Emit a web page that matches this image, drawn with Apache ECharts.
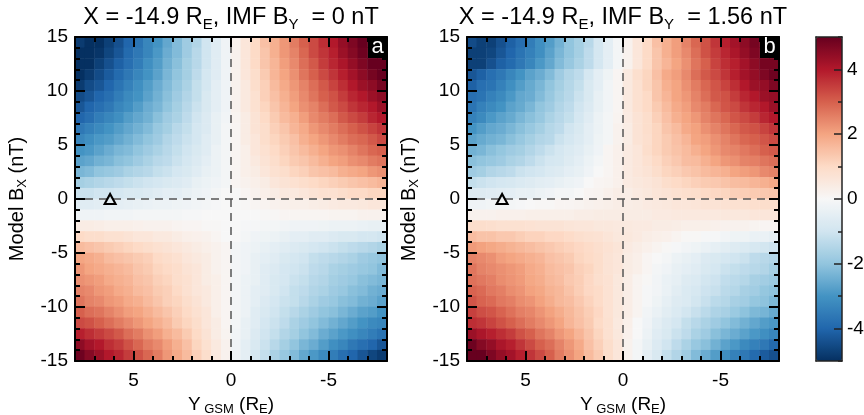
<!DOCTYPE html>
<html><head><meta charset="utf-8">
<script src="https://cdn.jsdelivr.net/npm/echarts@6/dist/echarts.min.js"></script>
<style>html,body{margin:0;padding:0;background:#fff}#c{width:864px;height:415px}</style>
</head><body><div id="c"></div>
<script>
// ---------- data ----------
const yGsmCenters = [7.75,7.25,6.75,6.25,5.75,5.25,4.75,4.25,3.75,3.25,2.75,2.25,1.75,1.25,0.75,0.25,-0.25,-0.75,-1.25,-1.75,-2.25,-2.75,-3.25,-3.75,-4.25,-4.75,-5.25,-5.75,-6.25,-6.75,-7.25,-7.75];
const bxCenters = [14.5,13.5,12.5,11.5,10.5,9.5,8.5,7.5,6.5,5.5,4.5,3.5,2.5,1.5,0.5,-0.5,-1.5,-2.5,-3.5,-4.5,-5.5,-6.5,-7.5,-8.5,-9.5,-10.5,-11.5,-12.5,-13.5,-14.5];
// rows: Bx from 14.5 (top) to -14.5 (bottom); columns: Y_GSM 7.75 (left) to -7.75 (right)
const panelA = [
[-4.8,-5.0,-5.0,-4.7,-4.4,-4.0,-3.7,-3.3,-3.0,-2.6,-2.2,-1.8,-1.5,-1.0,-0.6,-0.2,0.2,0.6,1.0,1.5,1.8,2.2,2.6,3.0,3.3,3.7,4.0,4.4,4.7,5.0,5.0,4.9],
[-5.0,-5.0,-4.9,-4.6,-4.3,-3.9,-3.6,-3.3,-2.9,-2.5,-2.2,-1.8,-1.4,-1.0,-0.6,-0.2,0.2,0.6,1.0,1.4,1.8,2.2,2.5,2.9,3.3,3.6,3.9,4.3,4.6,4.9,5.0,5.0],
[-5.0,-5.0,-4.7,-4.4,-4.1,-3.8,-3.5,-3.1,-2.8,-2.4,-2.1,-1.7,-1.4,-1.0,-0.6,-0.2,0.2,0.6,1.0,1.4,1.7,2.1,2.4,2.8,3.1,3.5,3.8,4.1,4.4,4.7,5.0,5.0],
[-5.0,-4.8,-4.5,-4.2,-3.9,-3.6,-3.3,-3.0,-2.7,-2.3,-2.0,-1.7,-1.3,-0.9,-0.6,-0.2,0.2,0.6,0.9,1.3,1.7,2.0,2.3,2.7,3.0,3.3,3.6,3.9,4.2,4.5,4.8,5.0],
[-4.8,-4.5,-4.3,-4.0,-3.7,-3.4,-3.1,-2.8,-2.5,-2.2,-1.9,-1.6,-1.2,-0.9,-0.5,-0.2,0.2,0.5,0.9,1.2,1.6,1.9,2.2,2.5,2.8,3.1,3.4,3.7,4.0,4.3,4.5,4.8],
[-4.5,-4.3,-4.0,-3.8,-3.5,-3.2,-3.0,-2.7,-2.4,-2.1,-1.8,-1.5,-1.2,-0.8,-0.5,-0.2,0.2,0.5,0.8,1.2,1.5,1.8,2.1,2.4,2.7,3.0,3.2,3.5,3.8,4.0,4.3,4.5],
[-4.3,-4.0,-3.8,-3.6,-3.3,-3.1,-2.8,-2.5,-2.3,-2.0,-1.7,-1.4,-1.1,-0.8,-0.5,-0.2,0.2,0.5,0.8,1.1,1.4,1.7,2.0,2.3,2.5,2.8,3.1,3.3,3.6,3.8,4.0,4.3],
[-4.0,-3.8,-3.5,-3.3,-3.1,-2.8,-2.6,-2.4,-2.1,-1.8,-1.6,-1.3,-1.0,-0.7,-0.4,-0.15,0.15,0.4,0.7,1.0,1.3,1.6,1.8,2.1,2.4,2.6,2.8,3.1,3.3,3.5,3.8,4.0],
[-3.6,-3.4,-3.2,-3.0,-2.8,-2.6,-2.4,-2.2,-1.9,-1.7,-1.4,-1.2,-0.9,-0.7,-0.4,-0.1,0.1,0.4,0.7,0.9,1.2,1.4,1.7,1.9,2.2,2.4,2.6,2.8,3.0,3.2,3.4,3.6],
[-3.3,-3.1,-2.9,-2.8,-2.6,-2.4,-2.2,-2.0,-1.8,-1.5,-1.3,-1.1,-0.9,-0.6,-0.4,-0.1,0.1,0.4,0.6,0.9,1.1,1.3,1.5,1.8,2.0,2.2,2.4,2.6,2.8,2.9,3.1,3.3],
[-3.0,-2.9,-2.7,-2.5,-2.3,-2.2,-2.0,-1.8,-1.6,-1.4,-1.2,-1.0,-0.8,-0.6,-0.3,-0.1,0.1,0.3,0.6,0.8,1.0,1.2,1.4,1.6,1.8,2.0,2.2,2.3,2.5,2.7,2.9,3.0],
[-2.7,-2.6,-2.4,-2.3,-2.1,-2.0,-1.8,-1.6,-1.4,-1.3,-1.1,-0.9,-0.7,-0.5,-0.3,-0.1,0.1,0.3,0.5,0.7,0.9,1.1,1.3,1.4,1.6,1.8,2.0,2.1,2.3,2.4,2.6,2.7],
[-2.3,-2.2,-2.0,-1.9,-1.8,-1.6,-1.5,-1.4,-1.2,-1.1,-0.9,-0.8,-0.6,-0.4,-0.3,-0.1,0.1,0.3,0.4,0.6,0.8,0.9,1.1,1.2,1.4,1.5,1.6,1.8,1.9,2.0,2.2,2.3],
[-1.7,-1.6,-1.5,-1.4,-1.3,-1.2,-1.1,-1.0,-0.9,-0.8,-0.7,-0.6,-0.4,-0.3,-0.2,-0.1,0.1,0.2,0.3,0.4,0.6,0.7,0.8,0.9,1.0,1.1,1.2,1.3,1.4,1.5,1.6,1.7],
[-1.1,-1.1,-1.0,-1.0,-0.9,-0.8,-0.8,-0.7,-0.6,-0.5,-0.5,-0.4,-0.3,-0.2,-0.1,0.0,0.0,0.1,0.2,0.3,0.4,0.5,0.5,0.6,0.7,0.8,0.8,0.9,1.0,1.0,1.1,1.1],
[-0.6,-0.6,-0.55,-0.5,-0.5,-0.45,-0.4,-0.35,-0.3,-0.3,-0.25,-0.2,-0.15,-0.1,-0.05,0.0,0.0,0.05,0.1,0.15,0.2,0.25,0.3,0.3,0.35,0.4,0.45,0.5,0.5,0.55,0.6,0.6],
[-0.2,-0.2,-0.2,-0.15,-0.15,-0.15,-0.1,-0.1,-0.1,-0.1,-0.1,-0.05,-0.05,0.0,0.0,0.0,0.0,0.0,0.0,0.05,0.05,0.1,0.1,0.1,0.1,0.1,0.15,0.15,0.15,0.2,0.2,0.2],
[0.4,0.4,0.35,0.3,0.3,0.3,0.25,0.2,0.2,0.2,0.15,0.1,0.1,0.05,0.05,0.0,0.0,-0.05,-0.05,-0.1,-0.1,-0.15,-0.2,-0.2,-0.2,-0.25,-0.3,-0.3,-0.3,-0.35,-0.4,-0.4],
[1.0,0.9,0.9,0.8,0.8,0.7,0.6,0.6,0.5,0.5,0.4,0.3,0.25,0.2,0.1,0.0,0.0,-0.1,-0.2,-0.25,-0.3,-0.4,-0.5,-0.5,-0.6,-0.6,-0.7,-0.8,-0.8,-0.9,-0.9,-1.0],
[1.6,1.5,1.4,1.3,1.2,1.1,1.0,0.9,0.8,0.7,0.6,0.5,0.4,0.3,0.2,0.1,-0.1,-0.2,-0.3,-0.4,-0.5,-0.6,-0.7,-0.8,-0.9,-1.0,-1.1,-1.2,-1.3,-1.4,-1.5,-1.6],
[2.0,1.9,1.8,1.6,1.5,1.4,1.3,1.2,1.0,0.9,0.8,0.6,0.5,0.4,0.2,0.1,-0.1,-0.2,-0.4,-0.5,-0.6,-0.8,-0.9,-1.0,-1.2,-1.3,-1.4,-1.5,-1.6,-1.8,-1.9,-2.0],
[2.2,2.0,1.9,1.8,1.7,1.6,1.4,1.3,1.1,1.0,0.9,0.7,0.6,0.4,0.2,0.1,-0.1,-0.2,-0.4,-0.6,-0.7,-0.9,-1.0,-1.1,-1.3,-1.4,-1.6,-1.7,-1.8,-1.9,-2.0,-2.2],
[2.3,2.2,2.1,1.9,1.8,1.7,1.5,1.4,1.2,1.1,0.9,0.8,0.6,0.4,0.3,0.1,-0.1,-0.3,-0.4,-0.6,-0.8,-0.9,-1.1,-1.2,-1.4,-1.5,-1.7,-1.8,-1.9,-2.1,-2.2,-2.3],
[2.5,2.4,2.2,2.1,1.9,1.8,1.6,1.5,1.3,1.2,1.0,0.8,0.6,0.5,0.3,0.1,-0.1,-0.3,-0.5,-0.6,-0.8,-1.0,-1.2,-1.3,-1.5,-1.6,-1.8,-1.9,-2.1,-2.2,-2.4,-2.5],
[2.7,2.5,2.4,2.2,2.1,1.9,1.8,1.6,1.4,1.2,1.1,0.9,0.7,0.5,0.3,0.1,-0.1,-0.3,-0.5,-0.7,-0.9,-1.1,-1.2,-1.4,-1.6,-1.8,-1.9,-2.1,-2.2,-2.4,-2.5,-2.7],
[3.0,2.8,2.7,2.5,2.3,2.1,2.0,1.8,1.6,1.4,1.2,1.0,0.8,0.6,0.3,0.1,-0.1,-0.3,-0.6,-0.8,-1.0,-1.2,-1.4,-1.6,-1.8,-2.0,-2.1,-2.3,-2.5,-2.7,-2.8,-3.0],
[3.3,3.2,3.0,2.8,2.6,2.4,2.2,2.0,1.8,1.6,1.3,1.1,0.9,0.6,0.4,0.1,-0.1,-0.4,-0.6,-0.9,-1.1,-1.3,-1.6,-1.8,-2.0,-2.2,-2.4,-2.6,-2.8,-3.0,-3.2,-3.3],
[3.9,3.7,3.5,3.3,3.1,2.8,2.6,2.3,2.1,1.8,1.6,1.3,1.0,0.7,0.4,0.15,-0.15,-0.4,-0.7,-1.0,-1.2,-1.5,-1.7,-2.0,-2.2,-2.5,-2.7,-2.9,-3.1,-3.3,-3.5,-3.7],
[4.5,4.2,4.0,3.7,3.5,3.2,2.9,2.6,2.4,2.1,1.8,1.5,1.1,0.8,0.5,0.2,-0.2,-0.5,-0.8,-1.1,-1.4,-1.7,-2.0,-2.3,-2.5,-2.8,-3.1,-3.3,-3.6,-3.8,-4.0,-4.3],
[4.9,4.6,4.3,4.0,3.8,3.5,3.2,2.9,2.6,2.2,1.9,1.6,1.2,0.9,0.5,0.2,-0.2,-0.5,-0.9,-1.2,-1.6,-1.9,-2.2,-2.6,-2.9,-3.2,-3.5,-3.8,-4.0,-4.3,-4.6,-4.8]
];
const panelB = [
[-4.5,-4.7,-4.7,-4.4,-4.1,-3.8,-3.5,-3.1,-2.8,-2.4,-2.0,-1.7,-1.4,-0.9,-0.5,-0.1,0.2,0.6,1.0,1.5,1.8,2.1,2.5,2.9,3.2,3.6,3.9,4.2,4.5,4.8,4.8,4.7],
[-4.7,-4.7,-4.6,-4.3,-4.0,-3.7,-3.4,-3.1,-2.7,-2.3,-2.0,-1.7,-1.3,-0.9,-0.5,-0.1,0.2,0.6,1.0,1.4,1.8,2.1,2.4,2.8,3.2,3.5,3.8,4.1,4.4,4.7,4.8,4.8],
[-4.7,-4.7,-4.4,-4.1,-3.9,-3.6,-3.3,-2.9,-2.6,-2.2,-1.9,-1.6,-1.3,-0.9,-0.5,-0.1,0.2,0.6,1.0,1.4,1.7,2.0,2.3,2.7,3.0,3.4,3.7,3.9,4.2,4.5,4.8,4.8],
[-4.3,-4.1,-3.8,-3.6,-3.3,-3.0,-2.7,-2.5,-2.2,-1.8,-1.5,-1.3,-0.9,-0.5,-0.25,0.1,0.5,0.85,1.1,1.5,1.9,2.1,2.4,2.8,3.1,3.3,3.6,3.9,4.2,4.4,4.7,4.9],
[-4.1,-3.8,-3.7,-3.4,-3.1,-2.8,-2.55,-2.3,-2.0,-1.7,-1.45,-1.2,-0.8,-0.5,-0.15,0.1,0.5,0.8,1.1,1.4,1.8,2.0,2.3,2.6,2.9,3.15,3.4,3.7,4.0,4.3,4.4,4.7],
[-3.8,-3.7,-3.4,-3.2,-2.9,-2.6,-2.5,-2.2,-1.9,-1.6,-1.4,-1.1,-0.8,-0.4,-0.15,0.1,0.5,0.8,1.0,1.4,1.7,2.0,2.2,2.5,2.8,3.1,3.2,3.5,3.8,4.0,4.3,4.4],
[-3.7,-3.4,-3.2,-3.0,-2.7,-2.55,-2.3,-2.0,-1.8,-1.5,-1.3,-1.0,-0.7,-0.4,-0.15,0.1,0.5,0.8,1.0,1.3,1.6,1.9,2.1,2.4,2.6,2.9,3.15,3.3,3.6,3.8,4.0,4.3],
[-3.4,-3.2,-2.9,-2.7,-2.55,-2.3,-2.1,-1.9,-1.6,-1.4,-1.2,-0.9,-0.6,-0.3,-0.1,0.15,0.45,0.7,0.9,1.2,1.5,1.8,2.0,2.2,2.5,2.7,2.9,3.15,3.3,3.5,3.8,4.0],
[-3.0,-2.8,-2.6,-2.5,-2.3,-2.1,-1.9,-1.7,-1.45,-1.3,-1.0,-0.8,-0.5,-0.3,-0.1,0.2,0.4,0.7,0.9,1.1,1.4,1.6,1.9,2.05,2.3,2.5,2.7,2.9,3.1,3.2,3.4,3.6],
[-2.7,-2.55,-2.4,-2.3,-2.1,-1.9,-1.7,-1.5,-1.4,-1.1,-0.9,-0.7,-0.5,-0.25,-0.1,0.2,0.4,0.7,0.85,1.1,1.3,1.5,1.7,2.0,2.1,2.3,2.5,2.7,2.9,3.0,3.15,3.3],
[-2.4,-2.3,-2.1,-1.95,-1.8,-1.7,-1.5,-1.3,-1.1,-0.9,-0.75,-0.6,-0.4,-0.2,0.1,0.25,0.45,0.6,0.9,1.1,1.3,1.45,1.6,1.8,2.0,2.2,2.4,2.5,2.65,2.8,3.0,3.1],
[-2.1,-2.0,-1.9,-1.8,-1.6,-1.5,-1.3,-1.1,-0.9,-0.85,-0.65,-0.5,-0.3,-0.1,0.1,0.25,0.45,0.6,0.8,1.0,1.2,1.35,1.55,1.6,1.8,2.0,2.2,2.3,2.5,2.55,2.7,2.8],
[-1.8,-1.7,-1.5,-1.4,-1.3,-1.1,-1.0,-0.9,-0.75,-0.65,-0.5,-0.4,-0.2,0.0,0.1,0.25,0.45,0.6,0.7,0.9,1.1,1.2,1.35,1.45,1.6,1.7,1.8,2.0,2.1,2.2,2.4,2.5],
[-1.2,-1.1,-1.0,-0.9,-0.85,-0.75,-0.65,-0.55,-0.5,-0.4,-0.3,-0.2,0.0,0.1,0.15,0.25,0.45,0.55,0.6,0.7,0.9,1.0,1.1,1.2,1.3,1.35,1.45,1.55,1.6,1.7,1.8,1.9],
[-0.65,-0.65,-0.6,-0.55,-0.5,-0.4,-0.4,-0.3,-0.2,-0.1,-0.1,0.0,0.1,0.15,0.25,0.35,0.35,0.45,0.55,0.65,0.7,0.8,0.85,0.9,1.0,1.05,1.1,1.2,1.25,1.3,1.35,1.4],
[-0.2,-0.2,-0.15,-0.1,-0.1,-0.05,0.0,0.05,0.05,0.1,0.1,0.15,0.2,0.25,0.3,0.35,0.35,0.4,0.45,0.5,0.55,0.6,0.6,0.65,0.7,0.7,0.75,0.8,0.8,0.85,0.9,0.9],
[0.2,0.2,0.2,0.25,0.25,0.25,0.3,0.3,0.3,0.3,0.3,0.35,0.35,0.4,0.4,0.4,0.4,0.4,0.4,0.45,0.45,0.5,0.5,0.5,0.5,0.5,0.55,0.55,0.55,0.6,0.6,0.6],
[0.9,0.9,0.85,0.8,0.8,0.8,0.75,0.7,0.7,0.7,0.65,0.6,0.6,0.55,0.55,0.5,0.5,0.45,0.45,0.4,0.4,0.35,0.3,0.3,0.3,0.25,0.2,0.2,0.2,0.15,0.1,0.1],
[1.55,1.45,1.45,1.35,1.35,1.25,1.15,1.15,1.05,1.05,0.95,0.85,0.8,0.75,0.65,0.55,0.55,0.45,0.35,0.3,0.25,0.15,0.05,0.05,-0.05,-0.05,-0.15,-0.25,-0.25,-0.35,-0.35,-0.45],
[2.15,2.05,1.95,1.85,1.75,1.65,1.55,1.45,1.35,1.25,1.15,1.05,0.95,0.85,0.75,0.65,0.45,0.35,0.25,0.15,0.05,-0.05,-0.15,-0.25,-0.35,-0.45,-0.55,-0.65,-0.75,-0.85,-0.95,-1.05],
[2.5,2.4,2.3,2.1,2.0,1.9,1.8,1.7,1.5,1.4,1.3,1.1,1.0,0.9,0.7,0.6,0.4,0.3,0.1,0.0,-0.1,-0.3,-0.4,-0.5,-0.7,-0.8,-0.9,-1.0,-1.1,-1.3,-1.4,-1.5],
[2.7,2.5,2.4,2.3,2.2,2.1,1.9,1.8,1.6,1.5,1.4,1.2,1.1,0.9,0.7,0.6,0.4,0.3,0.1,-0.1,-0.2,-0.4,-0.5,-0.6,-0.8,-0.9,-1.1,-1.2,-1.3,-1.4,-1.5,-1.7],
[2.75,2.65,2.55,2.35,2.25,2.15,1.95,1.85,1.65,1.55,1.35,1.25,1.05,0.85,0.75,0.55,0.35,0.15,0.05,-0.15,-0.35,-0.45,-0.65,-0.75,-0.95,-1.05,-1.25,-1.35,-1.45,-1.65,-1.75,-1.85],
[2.95,2.85,2.65,2.55,2.35,2.25,2.05,1.95,1.75,1.65,1.45,1.25,1.05,0.95,0.75,0.55,0.35,0.15,-0.05,-0.15,-0.35,-0.55,-0.75,-0.85,-1.05,-1.15,-1.35,-1.45,-1.65,-1.75,-1.95,-2.05],
[3.15,2.95,2.85,2.65,2.55,2.35,2.25,2.05,1.85,1.65,1.55,1.35,1.15,0.95,0.75,0.55,0.35,0.15,-0.05,-0.25,-0.45,-0.65,-0.75,-0.95,-1.15,-1.35,-1.45,-1.65,-1.75,-1.95,-2.05,-2.25],
[3.45,3.25,3.15,2.95,2.75,2.55,2.45,2.25,2.05,1.85,1.65,1.45,1.25,1.05,0.75,0.55,0.35,0.15,-0.15,-0.35,-0.55,-0.75,-0.95,-1.15,-1.35,-1.55,-1.65,-1.85,-2.05,-2.25,-2.35,-2.55],
[3.7,3.6,3.4,3.2,3.0,2.8,2.6,2.4,2.2,2.0,1.7,1.5,1.3,1.0,0.8,0.5,0.3,0.0,-0.2,-0.5,-0.7,-0.9,-1.2,-1.4,-1.6,-1.8,-2.0,-2.2,-2.4,-2.6,-2.8,-2.9],
[4.3,4.1,3.9,3.7,3.5,3.2,3.0,2.7,2.5,2.2,2.0,1.7,1.4,1.1,0.8,0.55,0.25,0.0,-0.3,-0.6,-0.8,-1.1,-1.3,-1.6,-1.8,-2.1,-2.3,-2.5,-2.7,-2.9,-3.1,-3.3],
[4.9,4.6,4.4,4.1,3.9,3.6,3.3,3.0,2.8,2.5,2.2,1.9,1.5,1.2,0.9,0.6,0.2,-0.1,-0.4,-0.7,-1.0,-1.3,-1.6,-1.9,-2.1,-2.4,-2.7,-2.9,-3.2,-3.4,-3.6,-3.9],
[5.0,5.0,4.7,4.4,4.2,3.9,3.6,3.3,3.0,2.6,2.3,2.0,1.6,1.3,0.9,0.6,0.2,-0.1,-0.5,-0.8,-1.2,-1.5,-1.8,-2.2,-2.5,-2.8,-3.1,-3.4,-3.6,-3.9,-4.2,-4.4]
];
const xMajorTicks = [5, 0, -5];
const yMajorTicks = [-15, -10, -5, 0, 5, 10, 15];
const cbMajorTicks = [-4, -2, 0, 2, 4];
const trianglePoints = [[6.2, 0], [6.2, 0]];
const panelTitles = [
  '{m|X = -14.9 R}{s|E}{m|, IMF B}{s|Y}{m|  = 0 nT}',
  '{m|X = -14.9 R}{s|E}{m|, IMF B}{s|Y}{m|  = 1.56 nT}'
];
const panelLetters = ['a', 'b'];
const xAxisName = '{m|Y}{s| GSM}{m| (R}{s|E}{m|)}';
const yAxisName = '{m|Model B}{s|X}{m| (nT)}';
const rdbu = ['#053061','#2166ac','#4393c3','#92c5de','#d1e5f0','#f7f7f7','#fddbc7','#f4a582','#d6604d','#b2182b','#67001f'];

// ---------- layout ----------
const FONT = '"Liberation Sans", Arial, Helvetica, sans-serif';
const grids = [
  {left: 75, top: 37, width: 312, height: 324},
  {left: 467, top: 37, width: 312, height: 324},
  {left: 816, top: 37, width: 26, height: 324}
];
const lineBlack = {color: '#000', width: 2};
const tickBlack = {color: '#000', width: 2};
const richName = (big, small) => ({
  m: {fontSize: big, fontFamily: FONT, color: '#000', lineHeight: 24, verticalAlign: 'middle'},
  s: {fontSize: small, fontFamily: FONT, color: '#000', lineHeight: small, verticalAlign: 'bottom'}
});

function xAxesFor(p) {
  const base = {type: 'value', gridIndex: p, min: -8, max: 8, inverse: true, splitLine: {show: false}, z: 6};
  return [
    {type: 'category', gridIndex: p, data: yGsmCenters.map(String), show: false},
    Object.assign({}, base, {position: 'bottom',
      axisLine: {show: true, onZero: false, lineStyle: lineBlack},
      axisTick: {show: true, inside: true, length: 10, customValues: xMajorTicks, lineStyle: tickBlack},
      axisLabel: {show: true, customValues: xMajorTicks, margin: 10, fontSize: 19, color: '#000', fontFamily: FONT},
      name: xAxisName, nameLocation: 'middle', nameGap: 27,
      nameTextStyle: {rich: richName(19, 13)}}),
    Object.assign({}, base, {position: 'bottom', interval: 1,
      axisLine: {show: false, onZero: false},
      axisTick: {show: true, inside: true, length: 5, lineStyle: tickBlack},
      axisLabel: {show: false}}),
    Object.assign({}, base, {position: 'top',
      axisLine: {show: true, onZero: false, lineStyle: lineBlack},
      axisTick: {show: true, inside: true, length: 10, customValues: xMajorTicks, lineStyle: tickBlack},
      axisLabel: {show: false}}),
    Object.assign({}, base, {position: 'top', interval: 1,
      axisLine: {show: false, onZero: false},
      axisTick: {show: true, inside: true, length: 5, lineStyle: tickBlack},
      axisLabel: {show: false}})
  ];
}
function yAxesFor(p) {
  const base = {type: 'value', gridIndex: p, min: -15, max: 15, splitLine: {show: false}, z: 6};
  return [
    {type: 'category', gridIndex: p, data: bxCenters.slice().reverse().map(String), show: false},
    Object.assign({}, base, {position: 'left',
      axisLine: {show: true, onZero: false, lineStyle: lineBlack},
      axisTick: {show: true, inside: true, length: 10, customValues: yMajorTicks, lineStyle: tickBlack},
      axisLabel: {show: true, customValues: yMajorTicks, margin: 7, fontSize: 19, color: '#000', fontFamily: FONT},
      name: yAxisName, nameLocation: 'middle', nameGap: 46, nameRotate: 90,
      nameTextStyle: {rich: richName(20, 13)}}),
    Object.assign({}, base, {position: 'left', interval: 1,
      axisLine: {show: false, onZero: false},
      axisTick: {show: true, inside: true, length: 5, lineStyle: tickBlack},
      axisLabel: {show: false}}),
    Object.assign({}, base, {position: 'right',
      axisLine: {show: true, onZero: false, lineStyle: lineBlack},
      axisTick: {show: true, inside: true, length: 10, customValues: yMajorTicks, lineStyle: tickBlack},
      axisLabel: {show: false}}),
    Object.assign({}, base, {position: 'right', interval: 1,
      axisLine: {show: false, onZero: false},
      axisTick: {show: true, inside: true, length: 5, lineStyle: tickBlack},
      axisLabel: {show: false}})
  ];
}
const cbLine = {color: '#222', width: 1.5};
const xAxes = xAxesFor(0).concat(xAxesFor(1), [
  {type: 'value', gridIndex: 2, min: 0, max: 1, position: 'bottom', z: 10, splitLine: {show: false},
   axisLine: {show: true, onZero: false, lineStyle: cbLine}, axisTick: {show: false}, axisLabel: {show: false}},
  {type: 'value', gridIndex: 2, min: 0, max: 1, position: 'top', z: 10, splitLine: {show: false},
   axisLine: {show: true, onZero: false, lineStyle: cbLine}, axisTick: {show: false}, axisLabel: {show: false}}
]);
const yAxes = yAxesFor(0).concat(yAxesFor(1), [
  {type: 'value', gridIndex: 2, min: -5, max: 5, position: 'right', z: 10, splitLine: {show: false},
   axisLine: {show: true, onZero: false, lineStyle: cbLine},
   axisTick: {show: true, inside: true, length: 8, customValues: cbMajorTicks, lineStyle: {color: '#222', width: 1.5}},
   axisLabel: {show: true, customValues: cbMajorTicks, margin: 5, fontSize: 19, color: '#000', fontFamily: FONT}},
  {type: 'value', gridIndex: 2, min: -5, max: 5, interval: 1, position: 'right', z: 10, splitLine: {show: false},
   axisLine: {show: false, onZero: false},
   axisTick: {show: true, inside: true, length: 4, lineStyle: {color: '#222', width: 1.5}}, axisLabel: {show: false}},
  {type: 'value', gridIndex: 2, min: -5, max: 5, position: 'left', z: 10, splitLine: {show: false},
   axisLine: {show: true, onZero: false, lineStyle: cbLine}, axisTick: {show: false}, axisLabel: {show: false}}
]);

function toHeat(rows) {
  const out = [];
  rows.forEach((row, i) => row.forEach((v, j) => out.push([j, bxCenters.length - 1 - i, v])));
  return out;
}
const series = [
  {type: 'heatmap', xAxisIndex: 0, yAxisIndex: 0, data: toHeat(panelA), emphasis: {disabled: true}, progressive: 0, z: 2},
  {type: 'heatmap', xAxisIndex: 5, yAxisIndex: 5, data: toHeat(panelB), emphasis: {disabled: true}, progressive: 0, z: 2}
];
[0, 1].forEach(p => {
  series.push({
    type: 'scatter', xAxisIndex: 5 * p + 1, yAxisIndex: 5 * p + 1, z: 5, silent: true,
    data: [trianglePoints[p]], symbol: 'triangle', symbolSize: [11, 10],
    itemStyle: {color: 'rgba(0,0,0,0)', borderColor: '#000', borderWidth: 2, opacity: 1},
    markLine: {silent: true, symbol: ['none', 'none'], label: {show: false}, animation: false,
      lineStyle: {color: '#555', width: 1.5, type: [8, 6]},
      data: [{xAxis: 0}, {yAxis: 0}]}
  });
});

const centers = [231, 623];
const letterBoxX = [368, 760];
const graphic = [];
[0, 1].forEach(p => {
  graphic.push({type: 'text', x: centers[p], y: 18, z: 100, style: {
    text: panelTitles[p], align: 'center', verticalAlign: 'middle', fill: '#000',
    rich: {
      m: {fontSize: 23.5, fontFamily: FONT, fill: '#000', lineHeight: 28, verticalAlign: 'middle'},
      s: {fontSize: 15, fontFamily: FONT, fill: '#000', lineHeight: 15, verticalAlign: 'bottom'}
    }}});
  graphic.push({type: 'rect', z: 100, shape: {x: letterBoxX[p], y: 37, width: 19, height: 21}, style: {fill: '#000'}});
  graphic.push({type: 'text', z: 101, x: letterBoxX[p] + 9.5, y: 47, style: {
    text: panelLetters[p], align: 'center', verticalAlign: 'middle', fill: '#fff', fontSize: 22, fontFamily: FONT}});
});
// sanity check of grid sizes
[panelA, panelB].forEach((rows, p) => {
  if (rows.length !== bxCenters.length || rows.some(r => r.length !== yGsmCenters.length)) {
    graphic.push({type: 'text', x: 300, y: 200, z: 200, style: {text: 'BAD DATA ' + p + ' ' + rows.map(r => r.length).join(','), fill: '#f0f', fontSize: 14}});
  }
});

const chart = echarts.init(document.getElementById('c'), null, {renderer: 'canvas'});
chart.setOption({
  animation: false,
  backgroundColor: '#fff',
  textStyle: {fontFamily: FONT},
  grid: grids.map(g => Object.assign({containLabel: false, outerBoundsMode: 'none'}, g)),
  xAxis: xAxes,
  yAxis: yAxes,
  visualMap: {type: 'continuous', min: -5, max: 5, seriesIndex: [0, 1], calculable: false, hoverLink: false,
    orient: 'vertical', left: 816, top: 37, itemWidth: 26, itemHeight: 324, padding: 0, z: 3,
    inRange: {color: rdbu}},
  series: series,
  graphic: graphic
});
</script></body></html>
